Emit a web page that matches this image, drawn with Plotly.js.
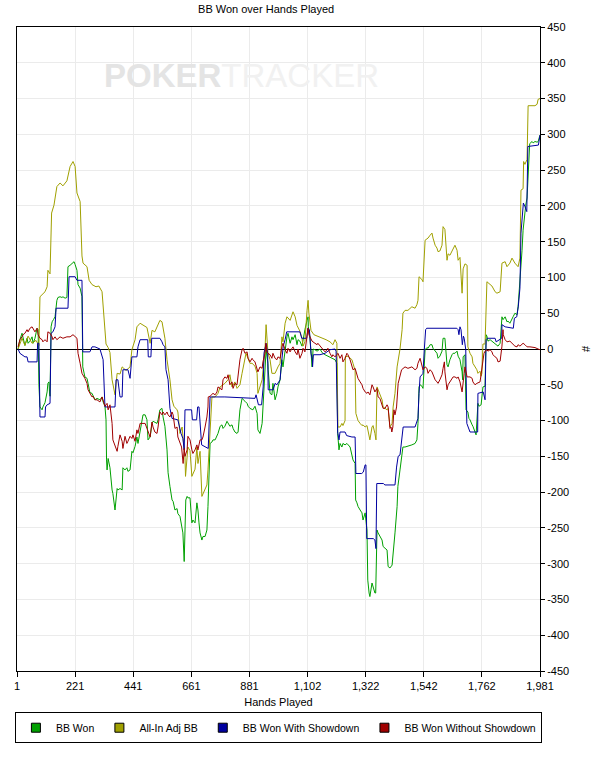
<!DOCTYPE html>
<html>
<head>
<meta charset="utf-8">
<script src="https://cdn.plot.ly/plotly-3.0.1.min.js"></script>
<style>
  html, body { margin: 0; padding: 0; background: #fff; }
  #chart { width: 609px; height: 757px; }
</style>
</head>
<body>
<div id="chart"></div>
<script>
var seriesNames = ['BB Won', 'All-In Adj BB', 'BB Won With Showdown', 'BB Won Without Showdown'];
var seriesColors = ['#00a000', '#a0a000', '#0000a0', '#a00000'];
var xTickVals = [1, 221, 441, 661, 881, 1101, 1321, 1541, 1761, 1981];
var xTickText = ['1', '221', '441', '661', '881', '1,102', '1,322', '1,542', '1,762', '1,981'];

// [hand, bb]
var bbWon = [[5,0],[12,13],[20,22],[24,17],[31,5],[39,15],[43,8],[50,11],[58,17],[62,8],[69,15],[77,29],[81,27],[84,-50],[88,-81],[96,-85],[99,-81],[107,-75],[115,-60],[118,-48],[122,-46],[124,-60],[126,-66],[130,31],[134,38],[139,41],[145,45],[152,68],[156,72],[164,73],[171,72],[175,73],[183,71],[190,72],[194,115],[202,117],[209,120],[217,122],[221,118],[228,110],[232,90],[240,85],[247,73],[250,-25],[258,-39],[266,-41],[270,-48],[277,-61],[285,-62],[289,-66],[296,-71],[304,-69],[315,-71],[323,-67],[327,-74],[334,-80],[338,-99],[340,-155],[342,-169],[346,-153],[353,-166],[361,-197],[364,-202],[372,-225],[380,-195],[383,-197],[391,-195],[399,-197],[402,-166],[410,-169],[417,-166],[421,-171],[429,-169],[436,-143],[440,-145],[448,-136],[455,-123],[459,-132],[467,-113],[474,-103],[478,-92],[486,-92],[493,-99],[497,-127],[505,-123],[512,-104],[516,-101],[531,-104],[535,-99],[542,-85],[550,-83],[554,-95],[561,-108],[569,-141],[573,-173],[580,-192],[588,-211],[592,-213],[599,-225],[607,-223],[610,-230],[618,-234],[626,-248],[629,-257],[634,-297],[640,-211],[645,-206],[648,-208],[656,-208],[663,-243],[667,-239],[675,-243],[682,-215],[686,-225],[690,-243],[694,-257],[701,-267],[705,-262],[713,-262],[720,-253],[724,-220],[732,-132],[739,-130],[743,-127],[751,-127],[758,-122],[762,-118],[770,-108],[777,-106],[781,-111],[788,-108],[796,-101],[800,-104],[807,-108],[815,-106],[819,-111],[826,-116],[834,-118],[838,-116],[845,-85],[853,-69],[857,-71],[864,-73],[872,-76],[876,-80],[883,-83],[891,-85],[894,-85],[902,-80],[910,-90],[913,-113],[921,-118],[929,-104],[932,-85],[940,-39],[944,-1],[951,-20],[952,-29],[959,-62],[966,-64],[970,-48],[978,-71],[985,-62],[989,-53],[997,-43],[1004,-15],[1008,-25],[1016,-1],[1023,17],[1027,22],[1035,8],[1042,17],[1046,13],[1054,20],[1061,6],[1065,13],[1072,11],[1080,4],[1084,13],[1091,27],[1099,40],[1103,45],[1104,31],[1110,17],[1118,-25],[1122,0],[1129,-1],[1137,-3],[1148,0],[1156,-5],[1167,-8],[1178,-10],[1193,-13],[1205,-15],[1212,-20],[1215,-118],[1220,-141],[1224,-132],[1231,-137],[1235,-132],[1243,-134],[1250,-132],[1262,-137],[1269,-151],[1273,-155],[1281,-160],[1283,-211],[1288,-215],[1292,-220],[1300,-225],[1307,-229],[1311,-239],[1319,-229],[1326,-253],[1329,-323],[1334,-341],[1337,-346],[1345,-327],[1349,-332],[1356,-341],[1359,-341],[1364,-253],[1368,-257],[1375,-262],[1383,-267],[1387,-276],[1394,-278],[1402,-281],[1406,-304],[1413,-306],[1421,-302],[1425,-281],[1432,-257],[1440,-220],[1443,-192],[1451,-169],[1459,-146],[1462,-137],[1470,-137],[1481,-136],[1496,-134],[1508,-132],[1515,-127],[1519,-104],[1523,-53],[1527,-50],[1534,-52],[1538,-55],[1546,-1],[1553,2],[1557,1],[1565,6],[1572,6],[1576,1],[1584,-3],[1591,-6],[1595,-13],[1602,-10],[1610,-3],[1614,15],[1621,15],[1629,-22],[1633,-25],[1640,-15],[1648,-8],[1652,-6],[1659,-6],[1667,-3],[1671,-10],[1678,-15],[1686,-32],[1688,-43],[1690,-11],[1697,-8],[1701,-85],[1708,-88],[1712,-97],[1716,-99],[1724,-106],[1727,-108],[1735,-116],[1739,-120],[1746,-76],[1750,-80],[1758,-78],[1765,-53],[1773,-52],[1777,20],[1780,18],[1784,11],[1792,13],[1799,11],[1803,10],[1811,8],[1818,6],[1822,4],[1830,8],[1837,45],[1841,41],[1849,45],[1856,38],[1860,39],[1867,36],[1875,41],[1879,45],[1886,50],[1894,48],[1898,59],[1905,91],[1913,138],[1917,166],[1924,197],[1927,201],[1932,211],[1936,236],[1942,287],[1951,290],[1955,288],[1962,290],[1970,289],[1974,290],[1981,299]];

var allInAdj = [[5,0],[20,15],[31,5],[43,18],[58,8],[73,12],[84,5],[88,73],[107,80],[115,87],[118,110],[126,105],[132,190],[141,201],[152,227],[164,232],[175,228],[190,235],[202,255],[213,262],[221,255],[228,218],[240,206],[247,130],[251,120],[266,115],[274,96],[285,90],[300,87],[311,88],[323,80],[327,57],[334,31],[338,7],[346,2],[353,-5],[361,-43],[372,-64],[380,-34],[391,-35],[399,-25],[414,-30],[429,-25],[436,-1],[448,13],[455,31],[467,36],[478,33],[493,30],[505,8],[512,26],[523,24],[535,36],[542,40],[550,38],[561,15],[569,-15],[580,-43],[588,-71],[595,-80],[607,-85],[610,-88],[618,-118],[626,-109],[633,-137],[637,-151],[639,-178],[645,-155],[648,-137],[656,-142],[663,-178],[675,-168],[682,-137],[686,-160],[694,-143],[701,-206],[713,-197],[720,-190],[724,-169],[732,-113],[739,-67],[751,-67],[762,-62],[770,-53],[788,-48],[800,-43],[807,-36],[815,-53],[826,-46],[834,-55],[845,-50],[853,-34],[864,-15],[868,-6],[883,-20],[891,-20],[902,-24],[910,-34],[913,-62],[921,-53],[929,-43],[940,0],[944,34],[951,-5],[959,-15],[966,-34],[978,-34],[989,-25],[997,-20],[1004,17],[1008,10],[1016,36],[1023,45],[1035,40],[1042,48],[1046,52],[1054,45],[1061,33],[1072,25],[1080,15],[1084,4],[1091,10],[1099,54],[1103,68],[1106,50],[1114,26],[1125,20],[1140,18],[1156,15],[1171,13],[1186,10],[1197,6],[1205,13],[1212,8],[1216,-109],[1224,-109],[1231,-104],[1235,-107],[1243,-100],[1244,-11],[1254,-10],[1262,-12],[1269,-15],[1273,-20],[1281,-30],[1284,-90],[1292,-100],[1300,-104],[1307,-107],[1311,-106],[1319,-109],[1326,-107],[1330,-114],[1337,-127],[1345,-109],[1349,-107],[1356,-118],[1360,-127],[1364,-53],[1368,-57],[1375,-62],[1383,-71],[1387,-81],[1394,-83],[1402,-85],[1406,-83],[1413,-109],[1421,-104],[1425,-81],[1432,-62],[1440,-25],[1451,0],[1459,27],[1462,50],[1470,54],[1481,54],[1496,59],[1508,57],[1515,62],[1519,68],[1523,101],[1534,97],[1538,94],[1546,152],[1553,154],[1557,155],[1565,159],[1572,162],[1576,155],[1584,145],[1591,141],[1595,136],[1602,137],[1610,145],[1614,171],[1621,167],[1629,124],[1633,133],[1640,131],[1648,138],[1652,141],[1659,145],[1667,138],[1671,124],[1678,128],[1686,78],[1690,112],[1697,119],[1705,117],[1707,7],[1708,3],[1716,-6],[1724,-11],[1727,-20],[1735,-24],[1742,-29],[1746,-34],[1754,-31],[1758,-38],[1761,-34],[1765,7],[1773,7],[1780,94],[1788,92],[1799,88],[1811,80],[1818,78],[1830,80],[1837,120],[1849,122],[1856,115],[1867,120],[1875,127],[1886,120],[1898,115],[1905,127],[1909,222],[1917,224],[1919,262],[1924,258],[1932,265],[1936,340],[1951,340],[1962,340],[1970,342],[1974,349],[1981,350]];

var wonShowdown = [[5,0],[12,-6],[31,-11],[39,-11],[43,-18],[77,-18],[79,8],[84,8],[88,-95],[107,-95],[109,-81],[115,-78],[126,-76],[130,22],[137,24],[145,31],[149,57],[194,57],[198,101],[221,101],[228,96],[247,96],[250,-4],[277,-4],[285,3],[296,3],[315,0],[323,-8],[327,-15],[334,-81],[372,-81],[376,-43],[383,-43],[391,-67],[399,-67],[402,-29],[421,-29],[429,-41],[436,-11],[455,-11],[459,3],[467,13],[496,13],[498,-11],[508,-11],[511,15],[542,15],[550,10],[554,6],[561,3],[565,-29],[573,-43],[580,-83],[588,-97],[610,-99],[622,-118],[629,-125],[634,-141],[637,-85],[662,-85],[665,-99],[681,-99],[685,-81],[690,-81],[694,-109],[700,-134],[725,-139],[732,-67],[788,-67],[883,-69],[902,-69],[906,-64],[915,-78],[927,-78],[933,-53],[936,-6],[944,8],[950,-6],[952,-57],[971,-57],[978,-48],[985,-50],[989,-48],[997,-43],[1001,-25],[1006,-1],[1009,4],[1016,13],[1022,24],[1072,24],[1079,15],[1098,15],[1102,29],[1108,27],[1114,-6],[1119,-15],[1120,-25],[1123,-8],[1148,-8],[1167,-6],[1186,-1],[1205,0],[1209,-3],[1215,-116],[1220,-127],[1224,-116],[1243,-116],[1249,-121],[1269,-123],[1281,-123],[1284,-174],[1306,-174],[1312,-172],[1319,-162],[1322,-162],[1325,-265],[1350,-265],[1356,-267],[1360,-279],[1363,-188],[1388,-188],[1394,-190],[1432,-190],[1438,-165],[1444,-150],[1451,-148],[1457,-127],[1463,-109],[1508,-109],[1515,-99],[1519,-97],[1523,-62],[1527,-39],[1534,-36],[1538,-34],[1543,-1],[1548,27],[1552,29],[1666,29],[1671,27],[1674,20],[1678,31],[1682,27],[1687,6],[1691,18],[1694,15],[1700,-1],[1704,-104],[1716,-116],[1745,-116],[1746,-62],[1766,-60],[1773,-71],[1777,13],[1782,15],[1811,15],[1815,10],[1836,15],[1837,34],[1849,31],[1880,29],[1884,43],[1893,45],[1899,60],[1905,85],[1909,162],[1918,204],[1924,199],[1931,192],[1935,283],[1962,285],[1975,285],[1981,299]];

var wonNoShowdown = [[5,3],[12,13],[20,17],[24,20],[31,22],[39,27],[43,24],[50,29],[58,31],[62,29],[69,24],[77,29],[81,20],[88,15],[96,13],[99,10],[107,13],[115,10],[118,24],[126,22],[134,17],[137,13],[145,17],[152,13],[164,17],[175,15],[190,17],[202,17],[213,20],[228,15],[232,-6],[240,-20],[247,-34],[258,-41],[266,-48],[270,-57],[277,-62],[285,-67],[289,-66],[296,-71],[304,-71],[315,-74],[323,-67],[327,-71],[334,-80],[342,-76],[346,-85],[353,-78],[361,-104],[364,-127],[372,-136],[380,-143],[383,-136],[391,-120],[399,-129],[402,-139],[410,-122],[417,-132],[421,-129],[429,-122],[436,-125],[440,-120],[448,-129],[455,-113],[459,-118],[467,-104],[474,-104],[486,-104],[493,-111],[497,-116],[505,-123],[512,-102],[516,-109],[523,-116],[531,-118],[535,-109],[542,-88],[550,-92],[554,-88],[561,-92],[569,-88],[573,-92],[580,-95],[588,-88],[592,-92],[599,-111],[607,-109],[610,-123],[618,-132],[624,-137],[630,-160],[634,-139],[637,-150],[645,-141],[648,-122],[656,-127],[663,-141],[667,-146],[675,-141],[682,-134],[686,-141],[694,-127],[701,-127],[705,-123],[713,-109],[720,-95],[724,-81],[725,-67],[732,-66],[739,-64],[743,-62],[751,-64],[758,-60],[762,-53],[770,-55],[777,-57],[781,-43],[788,-39],[796,-41],[800,-36],[807,-50],[815,-46],[819,-55],[826,-48],[834,-50],[838,-36],[845,-15],[853,-1],[857,1],[864,-6],[872,-4],[876,-13],[883,-18],[891,-13],[894,-15],[902,-18],[910,-27],[913,-32],[921,-25],[929,-27],[932,-18],[940,-6],[943,8],[947,-4],[951,-6],[959,-8],[966,-13],[970,-6],[978,-13],[985,-15],[989,-11],[997,-13],[1004,3],[1008,8],[1016,-1],[1023,-6],[1027,1],[1035,-4],[1042,1],[1046,3],[1054,-4],[1061,-8],[1065,0],[1072,-13],[1080,-6],[1084,1],[1091,-4],[1099,15],[1103,29],[1106,20],[1114,13],[1118,11],[1129,8],[1137,6],[1140,8],[1156,1],[1159,-1],[1167,-4],[1175,-1],[1178,1],[1186,-6],[1193,-11],[1197,-8],[1205,-11],[1212,-8],[1216,-6],[1224,-13],[1231,-8],[1235,-18],[1243,-13],[1250,-6],[1254,-8],[1262,-15],[1269,-22],[1273,-29],[1281,-27],[1288,-36],[1292,-41],[1300,-46],[1307,-50],[1311,-55],[1319,-60],[1326,-62],[1330,-60],[1337,-64],[1345,-50],[1349,-53],[1356,-60],[1364,-55],[1368,-67],[1375,-69],[1383,-78],[1387,-83],[1394,-83],[1402,-78],[1406,-81],[1410,-104],[1413,-111],[1417,-109],[1420,-116],[1424,-109],[1426,-92],[1428,-85],[1432,-92],[1438,-81],[1444,-48],[1451,-39],[1457,-29],[1470,-25],[1481,-27],[1496,-25],[1508,-29],[1515,-27],[1519,-20],[1527,-13],[1534,-25],[1538,-29],[1546,-25],[1553,-27],[1557,-34],[1565,-29],[1572,-32],[1576,-36],[1584,-43],[1591,-46],[1595,-48],[1602,-43],[1610,-36],[1614,-27],[1619,-18],[1621,-32],[1629,-57],[1633,-50],[1640,-46],[1648,-41],[1652,-39],[1659,-39],[1667,-41],[1671,-39],[1678,-46],[1686,-60],[1690,-50],[1694,-34],[1697,-25],[1701,-34],[1705,-39],[1708,-39],[1716,-39],[1724,-41],[1727,-46],[1735,-50],[1742,-48],[1754,-46],[1765,-11],[1769,-6],[1773,-3],[1780,-1],[1784,-3],[1792,-1],[1799,-4],[1803,-8],[1811,-11],[1818,-13],[1822,-18],[1830,-17],[1837,4],[1841,27],[1842,20],[1849,13],[1856,10],[1867,11],[1875,8],[1879,6],[1886,4],[1894,3],[1898,6],[1905,4],[1913,6],[1917,8],[1924,6],[1932,3],[1943,3],[1962,2],[1974,0],[1981,-1]];

var allSeries = [bbWon, allInAdj, wonShowdown, wonNoShowdown];

var FONT = '"Liberation Sans", Arial, sans-serif';

var yTicks = [];
for (var v = -450; v <= 450; v += 50) yTicks.push(v);

var traces = [];
allSeries.forEach(function (pts, i) {
  traces.push({
    x: pts.map(p => p[0]),
    y: pts.map(p => p[1]),
    type: 'scatter',
    mode: 'lines',
    line: { color: seriesColors[i], width: 1 },
    name: seriesNames[i],
    showlegend: false,
    hoverinfo: 'skip'
  });
});
// legend entries with square swatches
seriesNames.forEach(function (name, i) {
  traces.push({
    x: [null], y: [null],
    type: 'scatter',
    mode: 'markers',
    name: name,
    marker: { symbol: 'square', size: 9, color: seriesColors[i], line: { color: '#000', width: 1 } }
  });
});

var layout = {
  width: 609,
  height: 757,
  margin: { l: 17, r: 69, t: 27, b: 86 },
  paper_bgcolor: '#fff',
  plot_bgcolor: '#fff',
  font: { family: FONT, size: 11, color: '#000' },
  title: {
    text: 'BB Won over Hands Played',
    font: { family: FONT, size: 11, color: '#000' },
    x: 0.437, xref: 'container', xanchor: 'center',
    y: 0.988, yref: 'container', yanchor: 'middle'
  },
  xaxis: {
    range: [1, 1981],
    tickvals: xTickVals,
    ticktext: xTickText,
    ticks: 'outside', ticklen: 5, tickcolor: '#000',
    showline: true, mirror: true, linecolor: '#000', linewidth: 1,
    showgrid: true, gridcolor: '#ebebeb',
    zeroline: false,
    tickfont: { family: FONT, size: 11 },
    title: { text: 'Hands Played', font: { family: FONT, size: 11 }, standoff: 7 }
  },
  yaxis: {
    side: 'right',
    range: [-450, 450],
    tickvals: yTicks,
    ticktext: yTicks.map(String),
    ticks: 'outside', ticklen: 4, tickcolor: '#000',
    showline: true, mirror: true, linecolor: '#000', linewidth: 1,
    showgrid: true, gridcolor: '#ebebeb',
    zeroline: true, zerolinecolor: '#000', zerolinewidth: 1,
    tickfont: { family: FONT, size: 11 },
    title: { text: '#', font: { family: FONT, size: 11 }, standoff: 14 }
  },
  legend: {
    orientation: 'h',
    x: -0.004, xanchor: 'left',
    y: -0.064, yanchor: 'top',
    bordercolor: '#000', borderwidth: 1,
    font: { family: FONT, size: 10.5 },
    itemwidth: 30
  },
  annotations: [{
    xref: 'paper', yref: 'paper',
    x: 0.43, y: 0.925, xanchor: 'center', yanchor: 'middle',
    showarrow: false,
    text: '<b><span style="color:#e4e4e4">POKER</span></b><span style="color:#f1f1f1">TRACKER</span>',
    font: { family: FONT, size: 33, color: '#e8e8e8' }
  }]
};

Plotly.newPlot('chart', traces, layout, { displayModeBar: false, staticPlot: true });
</script>
</body>
</html>
